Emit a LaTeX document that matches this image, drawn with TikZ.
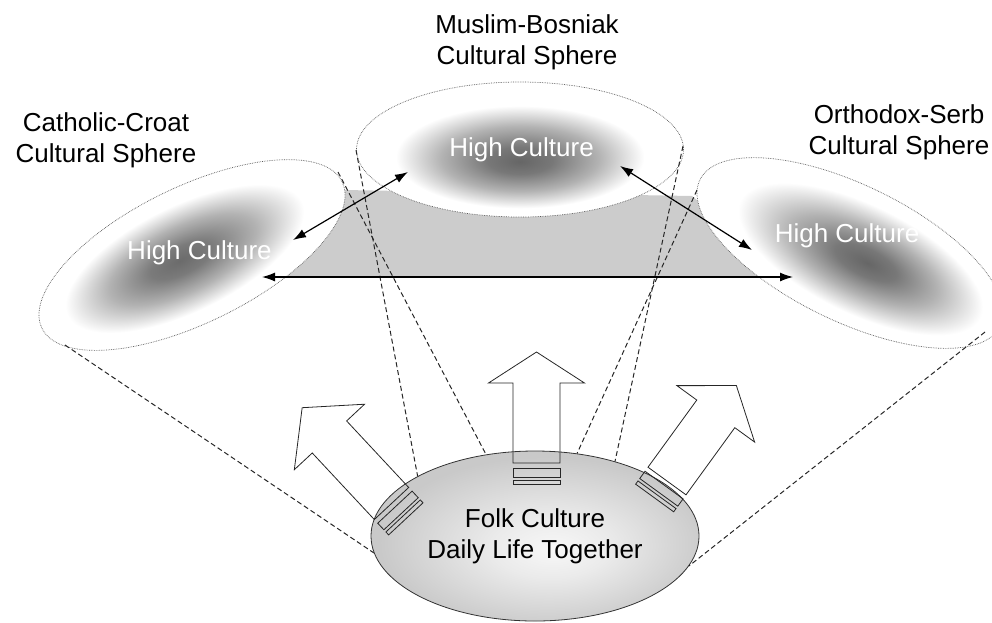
\documentclass[tikz,border=0pt]{standalone}
\usepackage{fontspec}
\setmainfont{Liberation Sans}
\usetikzlibrary{shapes.geometric, arrows.meta}

\newcommand{\spherefont}{\fontsize{26}{31}\selectfont}

% dark spots of the three spheres, and the folk ground (25bp = rim)
\pgfdeclareradialshading{croatspot}{\pgfpoint{-2bp}{0bp}}{color(0bp)=(black!58); color(5bp)=(black!52); color(12bp)=(black!30); color(19.5bp)=(white); color(25bp)=(white); color(50bp)=(white)}
\pgfdeclareradialshading{bosniakspot}{\pgfpoint{0bp}{-4.5bp}}{color(0bp)=(black!60); color(5bp)=(black!53); color(12bp)=(black!30); color(19bp)=(white); color(25bp)=(white); color(50bp)=(white)}
\pgfdeclareradialshading{serbspot}{\pgfpoint{3bp}{-0.5bp}}{color(0bp)=(black!60); color(5bp)=(black!53); color(12bp)=(black!30); color(20bp)=(white); color(25bp)=(white); color(50bp)=(white)}
\pgfdeclareradialshading{folkshade}{\pgfpoint{3bp}{-4bp}}{color(0bp)=(black!3); color(9bp)=(black!8); color(25bp)=(black!21); color(50bp)=(black!21)}

\tikzset{
  spherering/.style={draw=black!65, densely dotted, line width=0.7pt},
  spheretitle/.style={font=\spherefont, align=center, inner sep=0pt},
  hightext/.style={font=\spherefont, text=white, inner sep=0pt},
  folkbox/.style={ellipse, draw=black!80, line width=0.8pt, shade, shading=folkshade,
    minimum width=328pt, minimum height=170pt, inner sep=0pt, font=\spherefont, align=center},
  cone/.style={draw=black!85, dash pattern=on 5pt off 3pt, line width=1pt},
  link/.style={{Latex[length=13pt,width=9pt]}-{Latex[length=13pt,width=9pt]}, line width=1.2pt},
  blockarrow/.style={draw=black!85, line width=0.8pt, line join=miter}
}

% hollow arrow rising out of the folk culture: base, angle, shaft, head
\newcommand{\risearrow}[4]{%
  \begin{scope}[shift={#1}, rotate=#2]
    \draw[blockarrow] (-23.5,0) -- (-23.5,-#3) -- (-48,-#3) -- (0,-#3-#4)
      -- (48,-#3) -- (23.5,-#3) -- (23.5,0) -- cycle;
    \draw[blockarrow] (-23.5,5) rectangle (23.5,14);
    \draw[blockarrow] (-23.5,17) rectangle (23.5,21);
  \end{scope}}

\begin{document}
\begin{tikzpicture}[x=1pt, y=-1pt]
  \useasboundingbox (0,0) rectangle (992,622);

  % Common ground
  \fill[black!20] (255,277) -- (344,190) -- (692,196) -- (790,277) -- cycle;

  % Spheres
  \begin{scope}[transform canvas={shift={(192,255)}, rotate=26}]
    \shadedraw[spherering, shading=croatspot] (0,0) ellipse [x radius=167pt, y radius=68pt];
  \end{scope}
  \shadedraw[spherering, shading=bosniakspot] (520,149.5) ellipse [x radius=163.5pt, y radius=67.5pt];
  \begin{scope}[transform canvas={shift={(850,253)}, rotate=-26}]
    \shadedraw[spherering, shading=serbspot] (0,0) ellipse [x radius=167pt, y radius=68pt];
  \end{scope}

  % Folk culture
  \node[folkbox] (folk) at (535,536) {Folk Culture\\Daily Life Together};

  % Cone lines
  \coordinate (croatlow) at (65,345);
  \coordinate (croattop) at (338,172);
  \coordinate (bosniakleft) at (356,150);
  \coordinate (bosniakright) at (683,146);
  \coordinate (serbtop) at (697,190);
  \coordinate (serblow) at (985,332);
  \draw[cone] (croatlow) -- (folk.186);
  \draw[cone] (croattop) -- (folk.121);
  \draw[cone] (bosniakleft) -- (folk.153);
  \draw[cone] (bosniakright) -- (folk.43);
  \draw[cone] (serbtop) -- (folk.63);
  \draw[cone] (serblow) -- (folk.349);

  % Rising arrows
  \risearrow{(391.5,503.5)}{43}{91}{40}
  \risearrow{(536.5,463)}{0}{80}{31}
  \risearrow{(667,481)}{-36}{83}{35}

  % Links between the high cultures
  \coordinate (croatin) at (293,240);
  \coordinate (bosniakin) at (408,172);
  \coordinate (bosniakout) at (620,166);
  \coordinate (serbin) at (752,250);
  \coordinate (croatbase) at (262,277);
  \coordinate (serbbase) at (793,277);
  \draw[link] (croatin) -- (bosniakin);
  \draw[link] (bosniakout) -- (serbin);
  \draw[link] (croatbase) -- (serbbase);

  % Titles
  \node[spheretitle] (croattitle) at (106,140.5) {Catholic-Croat\\Cultural Sphere};
  \node[spheretitle] (bosniaktitle) at (527,42) {Muslim-Bosniak\\Cultural Sphere};
  \node[spheretitle] (serbtitle) at (899,132) {Orthodox-Serb\\Cultural Sphere};
  \node[hightext] (croathigh) at (199.5,253) {High Culture};
  \node[hightext] (bosniakhigh) at (521.5,150) {High Culture};
  \node[hightext] (serbhigh) at (847,236) {High Culture};
\end{tikzpicture}
\end{document}
